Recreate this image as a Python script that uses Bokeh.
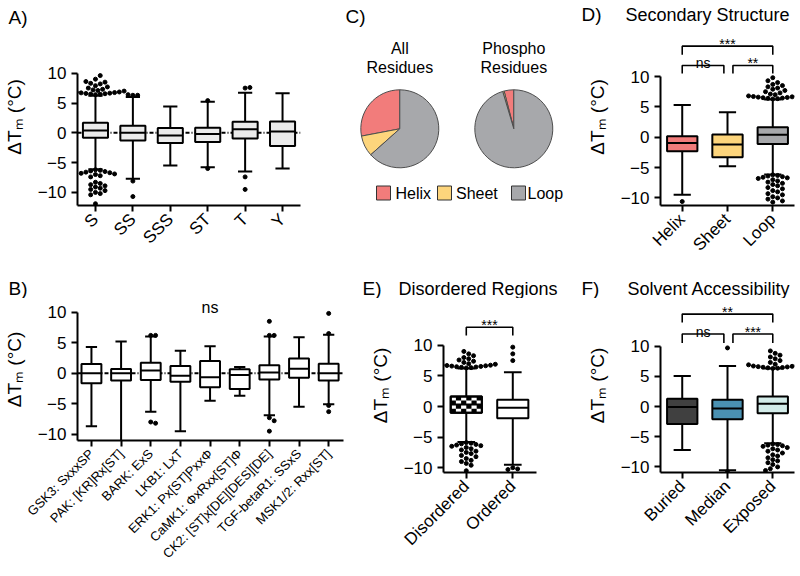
import math
from bokeh.plotting import figure
from bokeh.layouts import row, column
from bokeh.models import Range1d, FixedTicker, Span, Label
from bokeh.embed import file_html
from bokeh.resources import INLINE
from bokeh.core.properties import value

FONT = "Liberation Sans"
YLABEL = "\u0394T\u2098 (\u00b0C)"
Y_TICKS = [-10, -5, 0, 5, 10]

# ---------------- data ----------------
# A) residue type
a_cats = ["S", "SS", "SSS", "ST", "T", "Y"]
a_q1 = [-0.85, -1.3, -1.7, -1.55, -0.95, -2.2]
a_med = [0.4, 0.0, -0.45, -0.2, 0.6, 0.2]
a_q3 = [1.7, 1.2, 0.8, 0.85, 1.85, 1.9]
a_lo = [-6.1, -7.7, -5.5, -5.8, -6.5, -6.0]
a_hi = [6.2, 6.0, 4.4, 5.2, 6.7, 6.65]
a_out_S = [6.4, 6.45, 6.5, 6.55, 6.6, 6.65, 6.7, 6.75, 6.8, 6.85, 6.9, 7.0, 7.1, 7.2,
           7.3, 7.5, 7.7, 7.9, 8.2, 8.3, 8.5, 8.6, 9.0, 9.6,
           -6.2, -6.3, -6.4, -6.5, -6.6, -6.7, -6.8, -6.9, -7.0, -7.2, -7.4,
           -8.3, -8.5, -8.7, -8.9, -9.1, -9.3, -9.5, -9.7, -10.0, -10.2, -10.4, -11.9]
a_out_SS = [6.3, 6.3, 6.4, -8.1, -10.7]
a_out_ST = [5.4, -6.0]
a_out_T = [7.5, 7.6, -7.4, -9.5]
a_out = [a_out_S, a_out_SS, [], a_out_ST, a_out_T, []]

# B) kinase motifs
b_cats = ["GSK3: SxxxSP", "PAK: [KR]Rx[ST]", "BARK: ExS", "LKB1: LxT",
          "ERK1: Px[ST]Pxx\u03a6", "CaMK1: \u03a6xRxx[ST]\u03a6",
          "CK2: [ST]x[DE][DES][DE]", "TGF-betaR1: SSxS", "MSK1/2: Rxx[ST]"]
b_q1 = [-1.65, -1.2, -1.1, -1.4, -2.3, -2.6, -1.05, -0.75, -1.2]
b_med = [0.0, 0.0, 0.45, -0.4, -0.65, -0.3, 0.1, 0.75, 0.0]
b_q3 = [1.5, 0.7, 1.7, 1.2, 2.0, 0.65, 1.3, 2.4, 1.55]
b_lo = [-8.7, -11.5, -6.3, -9.5, -4.5, -3.7, -6.9, -5.5, -5.1]
b_hi = [4.3, 5.2, 6.0, 3.7, 4.4, 1.0, 6.0, 5.9, 6.3]
b_out = [[], [], [6.2, 6.2, -8.0, -8.2], [], [], [],
         [6.2, 6.2, 8.5, -7.3, -7.8, -9.5], [], [6.5, 9.8, -5.3, -6.3]]
b_sig = "ns"

# C) secondary structure composition (%)
c_cats = ["Helix", "Sheet", "Loop"]
c_all = [28.0, 8.6, 63.4]
c_phospho = [4.0, 0.6, 95.4]
c_titles = [["All", "Residues"], ["Phospho", "Residues"]]
c_colors = ["#f27c7b", "#fdd57c", "#a7a8ab"]

# D) secondary structure
d_cats = ["Helix", "Sheet", "Loop"]
d_q1 = [-2.3, -3.3, -1.1]
d_med = [-0.95, -1.2, 0.4]
d_q3 = [0.15, 0.45, 1.65]
d_lo = [-9.5, -4.8, -6.15]
d_hi = [5.3, 4.1, 6.2]
d_out_loop = [6.3, 6.35, 6.4, 6.45, 6.5, 6.55, 6.6, 6.65, 6.7, 6.75, 6.8, 6.9, 7.0, 7.1,
              7.3, 7.5, 7.7, 7.9, 8.1, 8.3, 8.5, 8.7, 9.0, 9.3, 9.8,
              -6.2, -6.3, -6.4, -6.5, -6.6, -6.7, -6.8, -7.0, -7.2, -7.4, -7.6, -7.8,
              -8.0, -8.3, -8.5, -8.8, -9.0, -9.3, -9.5, -9.8, -10.0, -10.2, -10.5, -10.7]
d_out = [[-10.6], [], d_out_loop]
d_colors = ["#f27c7b", "#fdd57c", "#a7a8ab"]
d_sig = [(0, 2, "***"), (0, 1, "ns"), (1, 2, "**")]

# E) disorder
e_cats = ["Disordered", "Ordered"]
e_q1 = [-1.03, -1.9]
e_med = [0.33, -0.2]
e_q3 = [1.63, 1.09]
e_lo = [-5.8, -9.5]
e_hi = [6.2, 5.6]
e_out_dis = [6.3, 6.35, 6.4, 6.45, 6.5, 6.55, 6.6, 6.65, 6.7, 6.75, 6.8, 6.9, 7.0,
             7.2, 7.4, 7.6, 7.8, 8.0, 8.3, 8.6, 9.0,
             -5.9, -6.0, -6.1, -6.2, -6.3, -6.4, -6.5, -6.7, -6.9, -7.1, -7.3, -7.5,
             -7.7, -8.0, -8.2, -8.5, -8.8, -9.0, -9.3, -9.6, -10.5]
e_out = [e_out_dis, [7.5, 8.6, 9.7, -10.0, -10.2, -10.3]]
e_sig = [(0, 1, "***")]

# F) solvent accessibility
f_cats = ["Buried", "Median", "Exposed"]
f_q1 = [-2.9, -2.1, -1.1]
f_med = [-0.1, -0.35, 0.45]
f_q3 = [1.3, 1.1, 1.65]
f_lo = [-7.2, -10.55, -6.1]
f_hi = [5.05, 6.7, 6.3]
f_out_exp = [6.3, 6.35, 6.4, 6.45, 6.5, 6.55, 6.6, 6.65, 6.7, 6.8, 6.9, 7.0, 7.3,
             7.6, 7.9, 8.2, 8.5, 8.8, 9.2,
             -6.2, -6.3, -6.4, -6.5, -6.6, -6.8, -7.0, -7.2, -7.4, -7.7, -8.0, -8.2,
             -8.5, -8.8, -9.0, -9.3, -9.6, -10.0, -10.3, -10.6]
f_out = [[], [9.7, -10.8], f_out_exp]
f_colors = ["#404040", "#4a91b2", "#d3ece9"]
f_sig = [(0, 2, "**"), (0, 1, "ns"), (1, 2, "***")]

panel_letters = ["A)", "B)", "C)", "D)", "E)", "F)"]
panel_titles = {"D)": "Secondary Structure", "E)": "Disordered Regions",
                "F)": "Solvent Accessibility"}


# ---------------- geometry helpers ----------------
class Geo:
    """Figure placed at page (ox, oy) with size w x h and borders ml, mr, mt, mb."""
    def __init__(self, ox, oy, w, h, ml, mr, mt, mb, xr, yr=None, zero_py=None, ppu=None):
        self.ox, self.oy, self.w, self.h = ox, oy, w, h
        self.ml, self.mr, self.mt, self.mb = ml, mr, mt, mb
        self.fl, self.fr = ox + ml, ox + w - mr
        self.ft, self.fb = oy + mt, oy + h - mb
        if yr is None:
            yr = ((zero_py - self.fb) / ppu, (zero_py - self.ft) / ppu)
        self.xr, self.yr = xr, yr
        self.ppx = (self.fr - self.fl) / (xr[1] - xr[0])
        self.ppy = (self.fb - self.ft) / (yr[1] - yr[0])

    def x(self, px):
        return self.xr[0] + (px - self.fl) / self.ppx

    def y(self, py):
        return self.yr[0] + (self.fb - py) / self.ppy


def make_fig(g, axes=True):
    kw = dict(width=g.w, height=g.h, x_range=Range1d(*g.xr), y_range=Range1d(*g.yr),
              output_backend="svg", toolbar_location=None, title=None,
              min_border_left=g.ml, min_border_right=g.mr,
              min_border_top=g.mt, min_border_bottom=g.mb)
    if not axes:
        kw.update(x_axis_location=None, y_axis_location=None)
    p = figure(**kw)
    p.outline_line_color = None
    p.background_fill_color = "white"
    p.border_fill_color = "white"
    p.xgrid.visible = False
    p.ygrid.visible = False
    return p


def put_text(p, g, texts, pxs, py, size, align="left"):
    p.text(x=[g.x(v) for v in pxs], y=g.y(py), text=texts, text_font=value(FONT),
           text_font_size=size, text_align=align, text_baseline="middle",
           text_color="black")


def swarm(vals, center, g, d=4.4):
    order = sorted(range(len(vals)), key=lambda i: abs(vals[i]))
    placed = []
    xs = [0.0] * len(vals)
    for i in order:
        yp = vals[i] * g.ppy
        step = 0
        while True:
            k = (step + 1) // 2
            off = k * d * 0.55 * (1 if step % 2 else -1) if step else 0.0
            if all((off - px) ** 2 + (yp - py) ** 2 >= d * d for px, py in placed):
                break
            step += 1
        placed.append((off, yp))
        xs[i] = center + off / g.ppx
    return xs


def box_panel(g, cats, q1, med, q3, lo, hi, outs, fills, xlab_size,
              zero_line=False, checker=()):
    p = make_fig(g)
    n = len(cats)
    xs = list(range(n))
    BW, CW = 0.67, 0.38
    for ax in (p.xaxis[0], p.yaxis[0]):
        ax.axis_line_width = 2
        ax.axis_line_color = "black"
        ax.major_tick_line_width = 2
        ax.major_tick_line_color = "black"
        ax.major_tick_out = 6
        ax.major_tick_in = 0
        ax.minor_tick_line_color = None
        ax.major_label_text_font = FONT
        ax.major_label_text_color = "black"
        ax.major_label_standoff = 5
    p.xaxis.ticker = FixedTicker(ticks=xs)
    p.xaxis.major_label_overrides = {i: c for i, c in enumerate(cats)}
    p.xaxis.major_label_orientation = math.pi / 4
    p.xaxis.major_label_text_font_size = xlab_size
    p.yaxis.ticker = FixedTicker(ticks=Y_TICKS)
    p.yaxis.major_label_text_font_size = "17px"
    p.yaxis.bounds = (g.yr[0], 10)
    p.yaxis.axis_label = YLABEL
    p.yaxis.axis_label_text_font = FONT
    p.yaxis.axis_label_text_font_size = "19px"
    p.yaxis.axis_label_text_font_style = "normal"
    p.yaxis.axis_label_text_color = "black"
    p.yaxis.axis_label_standoff = 10
    if zero_line:
        p.add_layout(Span(location=0, dimension="width", line_color="black",
                          line_width=2, line_dash="4 2 1 2", level="underlay"))
    lw = 2
    p.segment(x0=xs, y0=q3, x1=xs, y1=hi, line_color="black", line_width=lw)
    p.segment(x0=xs, y0=q1, x1=xs, y1=lo, line_color="black", line_width=lw)
    p.segment(x0=[x - CW / 2 for x in xs], y0=hi, x1=[x + CW / 2 for x in xs], y1=hi,
              line_color="black", line_width=lw)
    p.segment(x0=[x - CW / 2 for x in xs], y0=lo, x1=[x + CW / 2 for x in xs], y1=lo,
              line_color="black", line_width=lw)
    p.quad(left=[x - BW / 2 for x in xs], right=[x + BW / 2 for x in xs],
           bottom=q1, top=q3, fill_color=fills, line_color="black", line_width=lw)
    for i in checker:
        nx, ny = 6, 4
        cw = BW / nx
        ch = (q3[i] - q1[i]) / ny
        L, R, B, T = [], [], [], []
        for cx in range(nx):
            for cy in range(ny):
                if (cx + cy) % 2 == 1:
                    L.append(xs[i] - BW / 2 + cx * cw)
                    R.append(xs[i] - BW / 2 + (cx + 1) * cw)
                    B.append(q3[i] - (cy + 1) * ch)
                    T.append(q3[i] - cy * ch)
        p.quad(left=L, right=R, bottom=B, top=T, fill_color="black", line_color=None)
        p.quad(left=[xs[i] - BW / 2], right=[xs[i] + BW / 2], bottom=[q1[i]], top=[q3[i]],
               fill_color=None, line_color="black", line_width=lw)
    p.segment(x0=[x - BW / 2 for x in xs], y0=med, x1=[x + BW / 2 for x in xs], y1=med,
              line_color="black", line_width=lw)
    ox, oy = [], []
    for i, vals in enumerate(outs):
        if vals:
            ox += swarm(vals, xs[i], g)
            oy += vals
    if ox:
        p.scatter(x=ox, y=oy, size=4.0, marker="circle", color="black")
    return p


def add_brackets(p, g, sigs, levels):
    for (i0, i1, txt) in sigs:
        if i1 - i0 > 1 or len(sigs) == 1:
            yb, yd = levels["top"]
            x0, x1 = i0, i1
        else:
            yb, yd = levels["low"]
            x0 = i0 + (0.12 if i0 > 0 else 0.0)
            x1 = i1 - (0.08 if i0 == 0 else 0.0)
        p.line(x=[x0, x0, x1, x1], y=[yd, yb, yb, yd], line_color="black", line_width=1.6)
        p.add_layout(Label(x=(x0 + x1) / 2, y=yb + 2.5 / g.ppy, text=txt, text_font=FONT,
                           text_font_size="14px", text_align="center",
                           text_baseline="alphabetic", text_color="black"))


# ---------------- page layout (page pixels) ----------------
W = 799
H1T, H1H = 0, 28          # header strip, row 1
R1T, R1H = 28, 250        # plots, row 1
H2T, H2H = 278, 20        # header strip, row 2
R2T, R2H = 298, 277       # plots, row 2
MB1 = 73

# header 1
gH1 = Geo(0, H1T, W, H1H, 0, 0, 0, 0, (0, W), (0, H1H))
pH1 = make_fig(gH1, axes=False)
put_text(pH1, gH1, [panel_letters[0]], [8], 16.5, "19px")
put_text(pH1, gH1, [panel_letters[2]], [345], 16, "19px")
put_text(pH1, gH1, [panel_letters[3]], [581], 14, "19px")
put_text(pH1, gH1, [panel_titles["D)"]], [625], 14, "18px")

# A
gA = Geo(0, R1T, 343, R1H, 74, 43, 0, MB1, (-0.48, 5.48), zero_py=132.3, ppu=5.96)
pA = box_panel(gA, a_cats, a_q1, a_med, a_q3, a_lo, a_hi, a_out, ["#ebebeb"] * 6,
               "17px", zero_line=True)

# C
gC = Geo(343, R1T, 235, R1H, 0, 0, 0, MB1, (0, 235), (0, R1H - MB1))
pC = make_fig(gC, axes=False)
pie_centers = [(399.3, 128.3), (513.3, 128.3)]
for (cxp, cyp), vals, ttl in zip(pie_centers, [c_all, c_phospho], c_titles):
    tot = sum(vals)
    a = math.pi / 2
    st, en = [], []
    for v in vals:
        st.append(a)
        a += 2 * math.pi * v / tot
        en.append(a)
    pC.wedge(x=gC.x(cxp), y=gC.y(cyp), radius=39, start_angle=st, end_angle=en,
             fill_color=c_colors, line_color="#4d4d4d", line_width=1)
    put_text(pC, gC, [ttl[0]], [cxp], 48, "16px", align="center")
    put_text(pC, gC, [ttl[1]], [cxp], 67, "16px", align="center")
leg_sq_x = [383, 444, 518]
leg_tx_x = [395, 455.5, 527]
pC.rect(x=[gC.x(v) for v in leg_sq_x], y=gC.y(192.5), width=14, height=14,
        fill_color=c_colors, line_color="#333333", line_width=1)
put_text(pC, gC, c_cats, leg_tx_x, 192.5, "16px")

# D
gD = Geo(578, R1T, 221, R1H, 82, 5, 0, MB1, (-0.48, 2.48), zero_py=136.7, ppu=6.07)
pD = box_panel(gD, d_cats, d_q1, d_med, d_q3, d_lo, d_hi, d_out, d_colors, "17px")
add_brackets(pD, gD, d_sig, {"top": (15.0, 13.6), "low": (11.8, 10.5)})

# header 2
gH2 = Geo(0, H2T, W, H2H, 0, 0, 0, 0, (0, W), (0, H2H))
pH2 = make_fig(gH2, axes=False)
put_text(pH2, gH2, [panel_letters[1]], [8], 288, "19px")
put_text(pH2, gH2, [panel_letters[4]], [362], 288, "19px")
put_text(pH2, gH2, [panel_titles["E)"]], [398], 288, "18px")
put_text(pH2, gH2, [panel_letters[5]], [581], 288, "19px")
put_text(pH2, gH2, [panel_titles["F)"]], [627], 288, "18px")

# B
gB = Geo(0, R2T, 361, R2H, 76, 18, 0, 135, (-0.47, 8.5), zero_py=372.7, ppu=6.1)
pB = box_panel(gB, b_cats, b_q1, b_med, b_q3, b_lo, b_hi, b_out, ["white"] * 9,
               "13px", zero_line=True)
pB.add_layout(Label(x=4, y=gB.y(306.5), text=b_sig, text_font=FONT, text_font_size="16px",
                    text_align="center", text_baseline="alphabetic", text_color="black"))

# E
gE = Geo(361, R2T, 217, R2H, 82, 42, 0, 103, (-0.49, 1.51), zero_py=406, ppu=6.12)
pE = box_panel(gE, e_cats, e_q1, e_med, e_q3, e_lo, e_hi, e_out, ["white", "white"],
               "17px", checker=(0,))
add_brackets(pE, gE, e_sig, {"top": (12.95, 11.6)})

# F
gF = Geo(578, R2T, 221, R2H, 82, 5, 0, 103, (-0.48, 2.48), zero_py=406, ppu=6.04)
pF = box_panel(gF, f_cats, f_q1, f_med, f_q3, f_lo, f_hi, f_out, f_colors, "17px")
add_brackets(pF, gF, f_sig, {"top": (15.3, 13.9), "low": (12.0, 10.5)})

layout = column(
    pH1,
    row(column(pA), column(pC), column(pD)),
    pH2,
    row(column(pB), column(pE), column(pF)),
)
open("out.html", "w").write(file_html(layout, INLINE))
